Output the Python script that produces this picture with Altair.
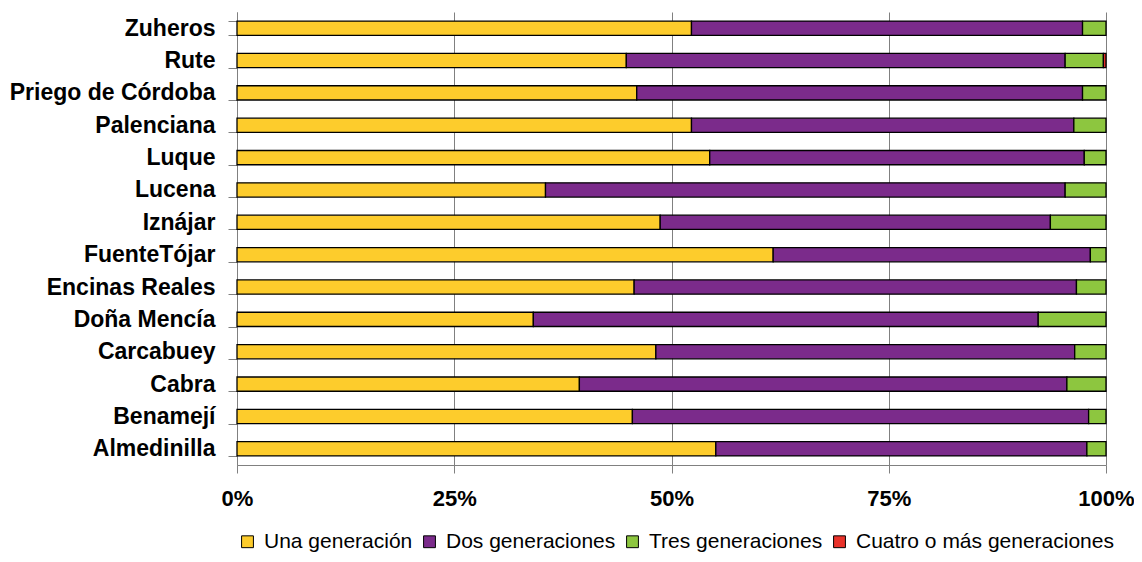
import altair as alt
import pandas as pd

municipios = ["Zuheros", "Rute", "Priego de Córdoba", "Palenciana", "Luque", "Lucena",
              "Iznájar", "FuenteTójar", "Encinas Reales", "Doña Mencía", "Carcabuey",
              "Cabra", "Benamejí", "Almedinilla"]
una = [52.3, 44.8, 46.0, 52.3, 54.4, 35.5, 48.7, 61.7, 45.7, 34.1, 48.2, 39.4, 45.5, 55.1]
dos = [45.0, 50.5, 51.3, 44.0, 43.1, 59.8, 44.9, 36.5, 50.9, 58.1, 48.2, 56.1, 52.5, 42.7]
tres = [2.7, 4.4, 2.7, 3.7, 2.5, 4.7, 6.4, 1.8, 3.4, 7.8, 3.6, 4.5, 2.0, 2.2]
cuatro = [0.0, 0.3, 0.0, 0.0, 0.0, 0.0, 0.0, 0.0, 0.0, 0.0, 0.0, 0.0, 0.0, 0.0]

series = ["Una generación", "Dos generaciones", "Tres generaciones", "Cuatro o más generaciones"]
colors = ["#FDCC2C", "#7B2B8B", "#8DC63F", "#E9322A"]
tick_vals = [0, 0.25, 0.5, 0.75, 1.0]

rows = []
for i, m in enumerate(municipios):
    for k, vals in enumerate([una, dos, tres, cuatro]):
        rows.append({"municipio": m, "serie": series[k], "orden": k, "valor": vals[i]})
df = pd.DataFrame(rows)

FONT = "Liberation Sans"

chart = alt.Chart(df).transform_filter(
    alt.datum.valor > 0
).mark_bar(stroke="black", strokeWidth=1.3).encode(
    y=alt.Y("municipio:N", sort=municipios, title=None,
            scale=alt.Scale(paddingInner=0.56, paddingOuter=0.28),
            axis=alt.Axis(tickBand="extent", domainColor="#808080", tickColor="#808080",
                          tickSize=9, labelPadding=13, labelFont=FONT, labelFontSize=23,
                          labelFontWeight="bold", labelColor="black", grid=False,
                          labelLimit=400)),
    x=alt.X("valor:Q", stack="normalize", title=None,
            scale=alt.Scale(domain=[0, 1], nice=False),
            axis=alt.Axis(values=tick_vals, format=".0%", domainColor="#808080",
                          tickColor="#808080", tickSize=8, labelPadding=15,
                          labelFont=FONT, labelFontSize=22, labelFontWeight="bold",
                          labelColor="black", grid=True, gridColor="#808080",
                          gridWidth=1, labelFlush=False)),
    color=alt.Color("serie:N", sort=series,
                    scale=alt.Scale(domain=series, range=colors),
                    legend=alt.Legend(orient="none", legendX=0, legendY=519,
                                      direction="horizontal", title=None,
                                      symbolType="square", symbolSize=140,
                                      symbolStrokeColor="black", symbolStrokeWidth=1,
                                      symbolOpacity=1, labelFont=FONT, labelFontSize=21,
                                      labelColor="black", labelOffset=6,
                                      columnPadding=6, labelLimit=400)),
    order=alt.Order("orden:Q"),
).properties(
    width=869, height=453,
    autosize=alt.AutoSizeParams(type="none"),
    padding={"left": 229, "top": 4, "right": 28, "bottom": 89},
).configure_view(stroke=None)

chart.save("out.html", embed_options={"renderer": "svg", "actions": False})
